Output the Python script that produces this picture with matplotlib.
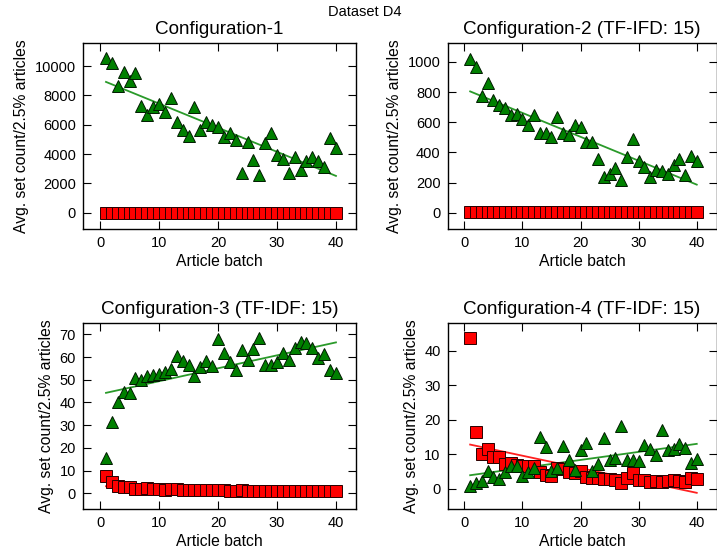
import numpy as np
import matplotlib
matplotlib.use("Agg")
import matplotlib.pyplot as plt

plt.rcParams['font.family'] = ['Liberation Sans', 'DejaVu Sans']

batches = np.arange(1, 41)

# green triangles (one series per configuration)
green_c1 = [10520, 10180, 8640, 9610, 8980, 9550, 7270, 6660, 7180, 7410,
            6890, 7800, 6200, 5640, 5230, 7180, 5640, 6200, 5980, 5820,
            5180, 5410, 4950, 2680, 4840, 3590, 2570, 4770, 5410, 3930,
            3640, 2730, 3820, 2910, 3550, 3820, 3550, 3140, 5070, 4390]
green_c2 = [1018, 965, 774, 863, 748, 715, 692, 648, 653, 622,
            582, 648, 531, 531, 500, 637, 531, 515, 582, 566,
            471, 467, 354, 239, 257, 294, 217, 367, 487, 345,
            305, 239, 283, 279, 257, 316, 354, 250, 376, 345]
green_c3 = [15.5, 31.6, 40.0, 44.4, 44.1, 50.7, 49.9, 51.7, 52.1, 52.6,
            53.6, 54.6, 60.5, 58.4, 56.5, 51.7, 55.5, 58.4, 56.1, 67.8,
            61.6, 58.0, 54.3, 63.1, 58.7, 63.4, 68.2, 56.5, 56.5, 58.0,
            61.9, 58.7, 63.8, 66.8, 66.3, 63.8, 59.4, 61.2, 54.3, 53.1]
green_c4 = [0.7, 1.6, 2.1, 5.0, 3.4, 2.8, 4.7, 6.5, 6.5, 3.6,
            4.7, 6.0, 15.1, 12.2, 5.0, 6.0, 12.4, 8.4, 5.5, 11.1,
            13.2, 5.0, 7.2, 14.7, 8.2, 8.9, 18.2, 8.2, 8.2, 7.9,
            12.7, 11.5, 9.8, 16.9, 11.3, 11.5, 13.0, 11.8, 7.4, 8.6]

# red squares
red_c1 = [12, 10, 9, 8, 8, 7, 7, 7, 6, 6,
          6, 6, 5, 5, 5, 5, 5, 5, 5, 4,
          4, 4, 4, 4, 4, 4, 4, 4, 4, 4,
          3, 3, 3, 3, 3, 3, 3, 3, 3, 3]
red_c2 = [6, 5, 5, 4, 4, 4, 4, 3, 3, 3,
          3, 3, 3, 3, 3, 3, 3, 3, 3, 2,
          2, 2, 2, 2, 2, 2, 2, 2, 2, 2,
          2, 2, 2, 2, 2, 2, 2, 2, 2, 2]
red_c3 = [7.5, 4.8, 3.1, 2.8, 2.8, 2.0, 2.0, 2.5, 2.0, 1.9,
          1.7, 1.9, 1.8, 1.6, 1.6, 1.5, 1.5, 1.5, 1.4, 1.3,
          1.3, 1.2, 1.2, 1.4, 0.9, 0.9, 1.0, 1.1, 1.0, 0.9,
          0.9, 1.0, 1.0, 1.0, 0.9, 1.0, 1.0, 0.9, 1.0, 1.0]
red_c4 = [43.8, 16.3, 10.0, 11.5, 9.3, 9.2, 7.2, 7.4, 6.9, 6.5,
          6.7, 6.5, 4.7, 4.0, 3.6, 6.0, 5.7, 4.7, 4.5, 5.0,
          3.3, 3.1, 3.1, 2.8, 2.8, 2.4, 1.6, 3.1, 4.5, 2.4,
          2.4, 1.8, 2.1, 1.8, 2.1, 2.6, 2.1, 1.8, 3.1, 2.8]

titles = ["Configuration-1", "Configuration-2 (TF-IFD: 15)",
          "Configuration-3 (TF-IDF: 15)", "Configuration-4 (TF-IDF: 15)"]
ylims = [(-1130, 11590), (-110, 1128), (-7, 75.1), (-6, 48.2)]
yticks = [np.arange(0, 10001, 2000), np.arange(0, 1001, 200),
          np.arange(0, 71, 10), np.arange(0, 41, 10)]
greens = [green_c1, green_c2, green_c3, green_c4]
reds = [red_c1, red_c2, red_c3, red_c4]

W, H = 717, 554
fig = plt.figure(figsize=(W / 100, H / 100), dpi=100)
# axes boxes in pixels: left, top, right, bottom
boxes = [(83, 42.7, 356, 229.3), (447.5, 42.7, 716.5, 229.3),
         (83, 322.7, 356, 509.3), (447.5, 322.5, 716.5, 509.3)]

for i in range(4):
    l, t, r, b = boxes[i]
    ax = fig.add_axes([l / W, 1 - b / H, (r - l) / W, (b - t) / H])
    # linear trends (drawn under the markers)
    kg = np.polyfit(batches, greens[i], 1)
    kr = np.polyfit(batches, reds[i], 1)
    ax.plot(batches, np.polyval(kg, batches), '-', color='#2a9a2a', lw=1.3, zorder=1.5)
    ax.plot(batches, np.polyval(kr, batches), '-', color='#ff2020', lw=1.3, zorder=1.5)

    ax.plot(batches, reds[i], 's', color='#ff0000', markersize=8.5,
            markeredgecolor='#2a0000', markeredgewidth=0.7, zorder=2)
    ax.plot(batches, greens[i], '^', color='#008000', markersize=8.5,
            markeredgecolor='#001a00', markeredgewidth=0.7, zorder=3)

    ax.set_xlim(-2.9, 43.4)
    ax.set_ylim(*ylims[i])
    ax.set_xticks([0, 10, 20, 30, 40])
    ax.set_yticks(yticks[i])
    ax.tick_params(direction='in', top=True, right=True, length=5.5,
                   width=0.8, labelsize=10.5, pad=5)
    for s in ax.spines.values():
        s.set_linewidth(1.0)
    ax.set_title(titles[i], fontsize=13.6, pad=6)
    ax.set_xlabel("Article batch", fontsize=11.3, labelpad=3)
    ax.set_ylabel("Avg. set count/2.5% articles", fontsize=11.3, labelpad=4)

fig.text(365 / W, 1 - 12 / H, "Dataset D4", ha='center', va='center', fontsize=10.5)

fig.savefig("out.png", dpi=100)
